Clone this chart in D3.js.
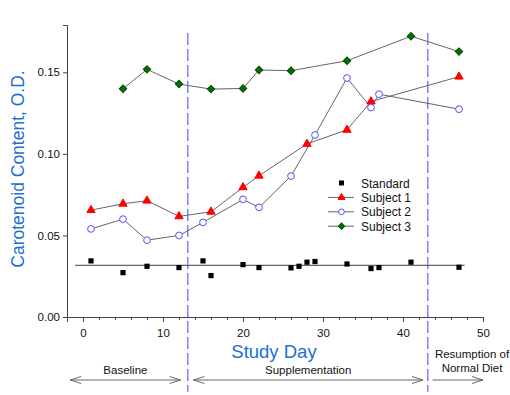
<!DOCTYPE html>
<html>
<head>
<meta charset="utf-8">
<script src="https://cdn.jsdelivr.net/npm/d3@7"></script>
<style>
  body { margin: 0; background: #fff; }
  svg { font-family: "Liberation Sans", Arial, sans-serif; }
</style>
</head>
<body>
<svg id="chart" width="510" height="395"></svg>
<script>
// data
const standardDays = [1, 5, 8, 12, 15, 16, 20, 22, 26, 27, 28, 29, 33, 36, 37, 41, 47];
const standardVals = [0.0344, 0.0272, 0.0311, 0.0303, 0.0344, 0.0254, 0.0321, 0.0303, 0.0301, 0.0311, 0.0336, 0.034, 0.0325, 0.0297, 0.0303, 0.0336, 0.0305];
const standardMean = 0.0317;
const standardSpan = [-1, 47.7];

const subject1Days = [1, 5, 8, 12, 16, 20, 22, 28, 33, 36, 47];
const subject1Vals = [0.0655, 0.0694, 0.0713, 0.0617, 0.0645, 0.0795, 0.0866, 0.1061, 0.1147, 0.1321, 0.1473];

const subject2Days = [1, 5, 8, 12, 15, 20, 22, 26, 29, 33, 36, 37, 47];
const subject2Vals = [0.054, 0.060, 0.0471, 0.050, 0.058, 0.0721, 0.0672, 0.0864, 0.1116, 0.1465, 0.1284, 0.1366, 0.1274];

const subject3Days = [5, 8, 12, 16, 20, 22, 26, 33, 41, 47];
const subject3Vals = [0.1399, 0.1518, 0.1428, 0.1397, 0.1401, 0.1514, 0.151, 0.1571, 0.1721, 0.1627];

const phaseBreaks = [13.1, 43.1];
const xTicks = [0, 10, 20, 30, 40, 50];
const yTicks = [0, 0.05, 0.10, 0.15];
const legendNames = ["Standard", "Subject 1", "Subject 2", "Subject 3"];

const svg = d3.select("#chart");
const x = d3.scaleLinear().domain([-2, 50]).range([67, 483]);
const y = d3.scaleLinear().domain([0, 0.179]).range([317, 25]);
const titleBlue = "#1e6fcf";
const lineGray = "#666";

// axes
const xAxis = svg.append("g").attr("transform", "translate(0,317)")
  .call(d3.axisBottom(x).tickValues(xTicks).tickSize(5).tickFormat(d3.format("d")));
svg.append("g").attr("transform", "translate(0,317)")
  .call(d3.axisBottom(x).tickValues(d3.range(-2, 51, 2).filter(d => d % 10 !== 0)).tickSize(3).tickFormat(""))
  .call(g => g.select(".domain").remove());
svg.append("g").attr("transform", "translate(67,0)")
  .call(d3.axisLeft(y).tickValues(yTicks).tickSize(4).tickFormat(d3.format(".2f")));
svg.selectAll(".domain").attr("stroke", "#444");
svg.selectAll(".tick line").attr("stroke", "#444");
svg.selectAll(".tick text").attr("font-size", 11.5).attr("fill", "#111")
  .attr("font-family", "Liberation Sans, Arial, sans-serif");
xAxis.selectAll(".tick text").attr("dy", "1.05em");

// axis titles
svg.append("text").attr("x", 274).attr("y", 358).attr("text-anchor", "middle")
  .attr("font-size", 18.5).attr("fill", titleBlue).text("Study Day");
svg.append("text").attr("transform", "translate(24,169) rotate(-90)").attr("text-anchor", "middle")
  .attr("font-size", 17.5).attr("fill", titleBlue).text("Carotenoid Content, O.D.");

// phase separators
svg.selectAll("line.phase").data(phaseBreaks).enter().append("line")
  .attr("class", "phase")
  .attr("x1", d => x(d)).attr("x2", d => x(d))
  .attr("y1", 33).attr("y2", 392)
  .attr("stroke", "#6b6bff").attr("stroke-width", 1.3).attr("stroke-dasharray", "12,4");

// phase arrows
const phases = [
  {label: ["Baseline"], from: -1.6, to: 12.2, ty: 374, both: true},
  {label: ["Supplementation"], from: 13.8, to: 42.5, ty: 374, both: true},
  {label: ["Resumption of", "Normal Diet"], from: 43.7, to: 50, ty: 358, both: false}
];
const arrowY = 380;
const head = (xt, dir) => `M${xt - dir * 11},${arrowY - 3.5}L${xt},${arrowY}L${xt - dir * 11},${arrowY + 3.5}`;
phases.forEach(p => {
  const x0 = x(p.from), x1 = x(p.to);
  svg.append("line").attr("x1", x0).attr("x2", x1).attr("y1", arrowY).attr("y2", arrowY)
    .attr("stroke", lineGray);
  svg.append("path").attr("d", head(x1, 1)).attr("fill", "none").attr("stroke", lineGray);
  if (p.both) svg.append("path").attr("d", head(x0, -1)).attr("fill", "none").attr("stroke", lineGray);
  const cx = p.label.length > 1 ? 472 : (x0 + x1) / 2;
  p.label.forEach((t, i) => {
    svg.append("text").attr("x", cx).attr("y", p.ty + i * 13.5).attr("text-anchor", "middle")
      .attr("font-size", 11.5).attr("fill", "#111").text(t);
  });
});

// standard mean line
svg.append("line")
  .attr("x1", x(standardSpan[0])).attr("x2", x(standardSpan[1]))
  .attr("y1", y(standardMean)).attr("y2", y(standardMean))
  .attr("stroke", lineGray).attr("stroke-width", 1.2);

const line = d3.line().x(d => x(d[0])).y(d => y(d[1]));
const zip = (a, b) => a.map((d, i) => [d, b[i]]);

const series = [
  {days: subject1Days, vals: subject1Vals, symbol: d3.symbolTriangle, size: 30, rot: 0, fill: "#ff0000", stroke: "#ff0000"},
  {days: subject2Days, vals: subject2Vals, symbol: d3.symbolCircle, size: 36, rot: 0, fill: "#fff", stroke: "#5050ff"},
  {days: subject3Days, vals: subject3Vals, symbol: d3.symbolSquare, size: 28, rot: 45, fill: "#007000", stroke: "#004d00"}
];

series.forEach(s => {
  svg.append("path").datum(zip(s.days, s.vals)).attr("d", line)
    .attr("fill", "none").attr("stroke", lineGray).attr("stroke-width", 1);
});
series.forEach(s => {
  svg.selectAll(null).data(zip(s.days, s.vals)).enter().append("path")
    .attr("transform", d => `translate(${x(d[0])},${y(d[1])}) rotate(${s.rot})`)
    .attr("d", d3.symbol(s.symbol, s.size))
    .attr("fill", s.fill).attr("stroke", s.stroke).attr("stroke-width", 1);
});

// standard points
svg.selectAll("rect.std").data(zip(standardDays, standardVals)).enter().append("rect")
  .attr("class", "std")
  .attr("x", d => x(d[0]) - 2.6).attr("y", d => y(d[1]) - 2.6)
  .attr("width", 5.2).attr("height", 5.2).attr("fill", "#000");

// legend
const legend = svg.append("g").attr("transform", "translate(328,183)");
legendNames.forEach((name, i) => {
  const g = legend.append("g").attr("transform", `translate(0,${i * 14.4})`);
  if (i === 0) {
    g.append("rect").attr("x", 11).attr("y", -2.5).attr("width", 5).attr("height", 5).attr("fill", "#000");
  } else {
    const s = series[i - 1];
    g.append("line").attr("x1", 0).attr("x2", 26).attr("stroke", lineGray);
    g.append("path").attr("transform", `translate(13.5,0) rotate(${s.rot})`)
      .attr("d", d3.symbol(s.symbol, s.size * 0.7))
      .attr("fill", s.fill).attr("stroke", s.stroke);
  }
  g.append("text").attr("x", 33).attr("y", 4.5).attr("font-size", 12).attr("fill", "#111").text(name);
});
</script>
</body>
</html>
